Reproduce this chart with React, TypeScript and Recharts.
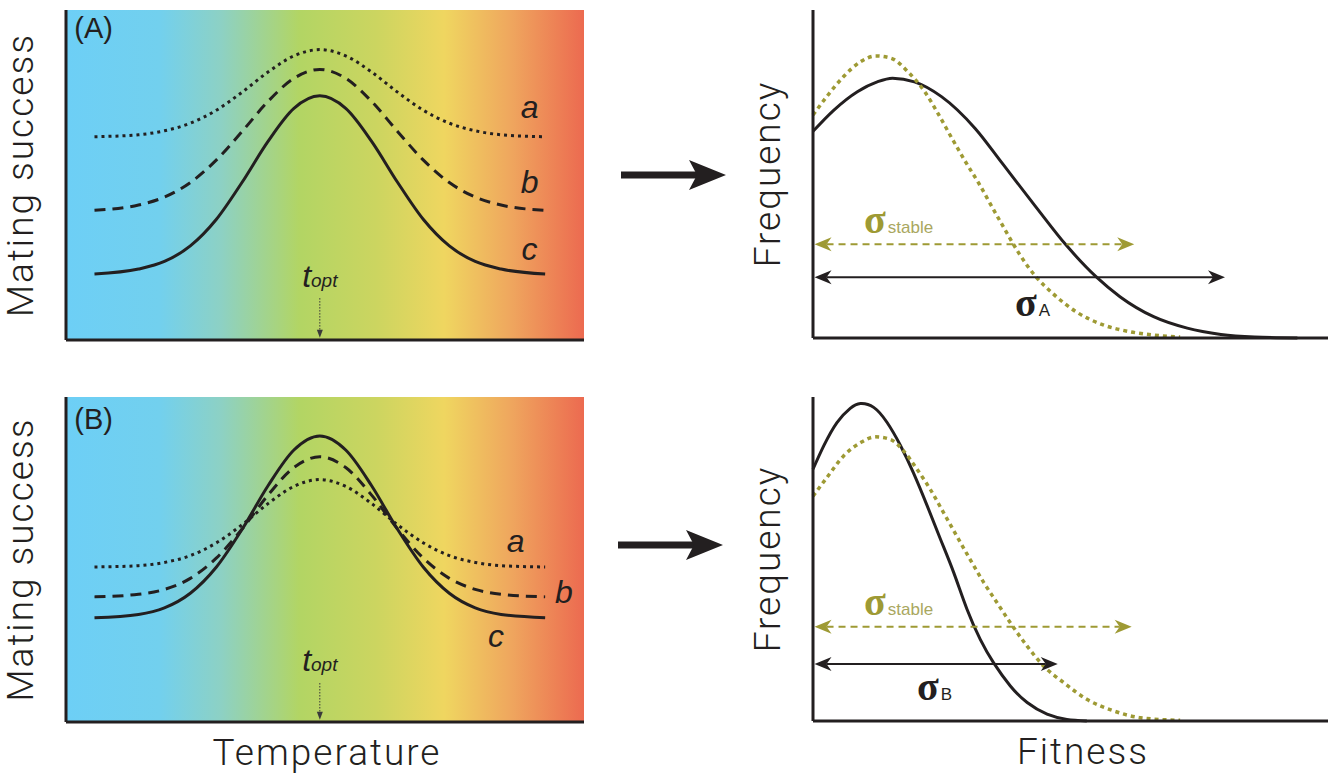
import React from "react";
import {
  LineChart, Line, XAxis, YAxis, ReferenceArea, ReferenceLine, ReferenceDot, Label,
} from "recharts";

const INK = "#231F20";
const OLIVE = "#9E9A34";
const OLIVE_LIGHT = "#A9A760";
const SANS = "'Liberation Sans', Arial, sans-serif";
const TITLE_FONT = "Roboto, 'Liberation Sans', sans-serif";
const SERIF = "'Liberation Serif', 'DejaVu Serif', serif";

// temperature positions of the mating-success curves (0..100 across the panel)
const temps = [5.5, 14, 19, 24, 29, 34, 39, 44, 49, 54, 59, 64, 69, 74, 79, 84, 92.5];

// panel (A): mating success, males a / b / c
const matingAa = [61.6, 62.2, 63.4, 65.7, 69.6, 75.1, 81.2, 86.1, 88, 86.1, 81.2, 75.1, 69.6, 65.7, 63.4, 62.2, 61.6];
const matingAb = [39.3, 40.9, 43.3, 47.7, 54.5, 63.2, 72.3, 79.3, 82, 79.3, 72.3, 63.2, 54.5, 47.7, 43.3, 40.9, 39.3];
const matingAc = [20, 21.5, 23.8, 28.5, 36.5, 47.8, 60.2, 70.2, 74, 70.2, 60.2, 47.8, 36.5, 28.5, 23.8, 21.5, 20];

// panel (B)
const matingBa = [47.7, 48.1, 49.1, 51.2, 55.1, 60.7, 67.2, 72.5, 74.6, 72.5, 67.2, 60.7, 55.1, 51.2, 49.1, 48.1, 47.7];
const matingBb = [38.5, 39.3, 40.8, 44.2, 50.4, 59.4, 69.8, 78.3, 81.6, 78.3, 69.8, 59.4, 50.4, 44.2, 40.8, 39.3, 38.5];
const matingBc = [32.1, 33.1, 35.1, 39.6, 47.6, 59.3, 72.7, 83.7, 88, 83.7, 72.7, 59.3, 47.6, 39.6, 35.1, 33.1, 32.1];

// fitness distributions, top row
const fitAx = [0, 4.1, 8.7, 12.6, 15.6, 19.9, 25.2, 31.8, 37.1, 43.7, 49.6, 55.5, 60.2, 66.8, 73.4, 80, 86.6, 95];
const fitAy = [63, 69.5, 75.1, 78.1, 79.2, 78.1, 73.6, 63.9, 53.3, 40, 28.4, 18.7, 12.6, 6.5, 3, 1.1, 0.3, 0];
const stableAx = [0, 2.7, 6, 9.3, 12.3, 15.3, 18.6, 21.9, 24.5, 27.2, 29.8, 32.5, 35.1, 37.7, 40.4, 43.7, 47, 51.6, 56.9, 62.2, 66.8, 72];
const stableAy = [68, 73.6, 79.7, 84.2, 86, 85.3, 81.2, 75.1, 68.5, 61, 54, 47.2, 40, 32.9, 25.8, 18.7, 13.6, 8, 4, 1.9, 0.9, 0.3];

// fitness distributions, bottom row
const fitBx = [0, 2.1, 4.7, 7.3, 9.3, 11.9, 14.5, 17.1, 19.7, 22.4, 25, 27.6, 30.2, 32.8, 35.4, 38.7, 42, 45.9, 49.8, 53.7];
const fitBy = [77.7, 84.9, 92.1, 96.5, 98, 96.8, 92.2, 85.2, 76.6, 66.4, 56.1, 45.8, 34.5, 25.2, 18, 10.8, 5.7, 2.1, 0.5, 0];
const stableBx = [0, 2.7, 6, 9.3, 12.2, 15.2, 17.8, 20.4, 23, 25.6, 28.2, 30.8, 33.5, 36.1, 38.7, 42, 45.2, 49.2, 53.7, 59, 64.2, 72];
const stableBy = [69.4, 75.1, 81.8, 85.9, 87.7, 86.9, 83.3, 77.7, 71.5, 64.3, 57.1, 49.9, 42.7, 36.5, 30.3, 23.1, 17, 11.8, 6.7, 3.1, 1, 0.2];

// width arrows: [y, right end]
const sigmaStableA = [28.6, 63];
const sigmaA = [18.5, 80.8];
const sigmaStableB = [29.1, 62.5];
const sigmaB = [17.6, 48];

const gradStops: [number, string][] = [
  [0, "#6DCFF6"], [0.18, "#72D0EE"], [0.3, "#8DD1C4"], [0.45, "#B2D564"],
  [0.6, "#CCD560"], [0.73, "#EFD660"], [0.86, "#EFA65E"], [1, "#EC6A50"],
];

const toPts = (xs: number[], ys: number[]) => xs.map((x, i) => ({ x, y: ys[i] }));

function note(key: string, x: number, y: number, render: (cx: number, cy: number) => React.ReactNode) {
  return (
    <ReferenceDot key={key} x={x} y={y} r={0} fill="none" stroke="none"
      label={(p: any) => render(p.viewBox.x, p.viewBox.y) as any} />
  );
}

function spanArrow(color: string, width: number, dash?: string) {
  return (p: any) => {
    const { x1, y1, x2 } = p;
    const L = 17, H = 7, N = 12;
    const left = `M${x1},${y1} L${x1 + L},${y1 - H} L${x1 + N},${y1} L${x1 + L},${y1 + H} Z`;
    const right = `M${x2},${y1} L${x2 - L},${y1 - H} L${x2 - N},${y1} L${x2 - L},${y1 + H} Z`;
    return (
      <g>
        <line x1={x1 + N} y1={y1} x2={x2 - N} y2={y1} stroke={color} strokeWidth={width} strokeDasharray={dash} />
        <path d={left} fill={color} />
        <path d={right} fill={color} />
      </g>
    );
  };
}

const toptArrow = (p: any) => {
  const { x1, y1, y2 } = p;
  return (
    <g>
      <line x1={x1} y1={y1} x2={x1} y2={y2 - 5} stroke="#3a3a3a" strokeWidth={1} strokeDasharray="1.5 1.5" />
      <path d={`M${x1 - 3},${y2 - 8} L${x1 + 3},${y2 - 8} L${x1},${y2} Z`} fill="#3a3a3a" />
    </g>
  );
};

const vertTitle = (vb: any, text: string) => {
  const bx = vb.x + vb.width - 33;
  const cy = vb.y + vb.height / 2;
  return (
    <text x={bx} y={cy} transform={`rotate(-90 ${bx} ${cy})`} textAnchor="middle"
      fontFamily={TITLE_FONT} fontWeight={300} fontSize={37} letterSpacing={2} fill={INK}>{text}</text>
  );
};

const horizTitle = (vb: any, text: string, cx: number) => (
  <text x={cx} y={vb.y + 43} textAnchor="middle" fontFamily={TITLE_FONT} fontWeight={300}
    fontSize={37} letterSpacing={2} fill={INK}>{text}</text>
);

type MatingProps = {
  id: string; tag: string; a: number[]; b: number[]; c: number[];
  height: number; bottom: number; tagY: number;
  labelPos: { a: [number, number]; b: [number, number]; c: [number, number] };
  toptY: number; arrowTop: number; xTitle?: boolean;
};

function MatingPanel(p: MatingProps) {
  const rows = temps.map((t, i) => ({ t, a: p.a[i], b: p.b[i], c: p.c[i] }));
  const letter = (k: "a" | "b" | "c") =>
    note(k, p.labelPos[k][0], p.labelPos[k][1], (cx, cy) => (
      <text x={cx} y={cy} textAnchor="middle" fontFamily={SANS} fontStyle="italic" fontSize={32} fill={INK}>{k}</text>
    ));
  return (
    <LineChart width={600} height={p.height} data={rows} margin={{ top: 10, right: 16, bottom: p.bottom, left: 65 }}>
      <defs>
        <linearGradient id={p.id} x1="0" y1="0" x2="1" y2="0">
          {gradStops.map(([o, c]) => <stop key={o} offset={o} stopColor={c} />)}
        </linearGradient>
      </defs>
      <ReferenceArea x1={0} x2={100} y1={0} y2={100} fill={`url(#${p.id})`} fillOpacity={1} stroke="none" />
      <XAxis dataKey="t" type="number" domain={[0, 100]} height={1} tick={false} tickLine={false}
        axisLine={{ stroke: INK, strokeWidth: 3 }}>
        {p.xTitle && <Label content={(lp: any) => horizTitle(lp.viewBox, "Temperature", lp.viewBox.x + lp.viewBox.width / 2 + 2)} />}
      </XAxis>
      <YAxis type="number" domain={[0, 100]} width={1} tick={false} tickLine={false}
        axisLine={{ stroke: INK, strokeWidth: 3 }}>
        <Label content={(lp: any) => vertTitle(lp.viewBox, "Mating success")} />
      </YAxis>
      <Line dataKey="a" type="monotone" stroke={INK} strokeWidth={3} strokeDasharray="3 4" dot={false} isAnimationActive={false} />
      <Line dataKey="b" type="monotone" stroke={INK} strokeWidth={3} strokeDasharray="11 7" dot={false} isAnimationActive={false} />
      <Line dataKey="c" type="monotone" stroke={INK} strokeWidth={3} dot={false} isAnimationActive={false} />
      {letter("a")}
      {letter("b")}
      {letter("c")}
      {note("tag", 1.6, p.tagY, (cx, cy) => (
        <text x={cx} y={cy} fontFamily={SANS} fontSize={29} fill={INK}>{p.tag}</text>
      ))}
      {note("topt", 49, p.toptY, (cx, cy) => (
        <text x={cx} y={cy} textAnchor="middle" fontFamily={SANS} fontStyle="italic" fill={INK}>
          <tspan fontSize={32}>t</tspan><tspan fontSize={19}>opt</tspan>
        </text>
      ))}
      <ReferenceLine segment={[{ x: 49, y: p.arrowTop }, { x: 49, y: 0.7 }]} shape={toptArrow} />
    </LineChart>
  );
}

type FitProps = {
  height: number; bottom: number; curve: "monotone" | "natural";
  black: { x: number; y: number }[]; stable: { x: number; y: number }[];
  stableArrow: number[]; sigmaArrow: number[];
  stableLabel: [number, number]; sigmaLabel: [number, number]; sub: string; xTitle?: boolean;
};

function FitnessPanel(p: FitProps) {
  return (
    <LineChart width={628} height={p.height} margin={{ top: 10, right: 0, bottom: p.bottom, left: 112 }}>
      <XAxis dataKey="x" type="number" domain={[0, 101]} height={1} tick={false} tickLine={false}
        axisLine={{ stroke: INK, strokeWidth: 3 }}>
        {p.xTitle && <Label content={(lp: any) => horizTitle(lp.viewBox, "Fitness", lp.viewBox.x + 270)} />}
      </XAxis>
      <YAxis type="number" domain={[0, 100]} width={1} tick={false} tickLine={false}
        axisLine={{ stroke: INK, strokeWidth: 3 }}>
        <Label content={(lp: any) => vertTitle(lp.viewBox, "Frequency")} />
      </YAxis>
      <Line data={p.black} dataKey="y" type={p.curve} stroke={INK} strokeWidth={3} dot={false} isAnimationActive={false} />
      <Line data={p.stable} dataKey="y" type="monotone" stroke={OLIVE} strokeWidth={3.5} strokeDasharray="4 4" dot={false} isAnimationActive={false} />
      <ReferenceLine segment={[{ x: 0.3, y: p.stableArrow[0] }, { x: p.stableArrow[1], y: p.stableArrow[0] }]}
        shape={spanArrow(OLIVE, 2, "7 5")} />
      <ReferenceLine segment={[{ x: 0.3, y: p.sigmaArrow[0] }, { x: p.sigmaArrow[1], y: p.sigmaArrow[0] }]}
        shape={spanArrow(INK, 2)} />
      {note("ss", p.stableLabel[0], p.stableLabel[1], (cx, cy) => (
        <text x={cx} y={cy}>
          <tspan fontFamily={SERIF} fontWeight="bold" fontSize={40} fill={OLIVE}>σ</tspan>
          <tspan dx={2} fontFamily={SANS} fontSize={17} fill={OLIVE_LIGHT}>stable</tspan>
        </text>
      ))}
      {note("sx", p.sigmaLabel[0], p.sigmaLabel[1], (cx, cy) => (
        <text x={cx} y={cy}>
          <tspan fontFamily={SERIF} fontWeight="bold" fontSize={40} fill={INK}>σ</tspan>
          <tspan dx={2} fontFamily={SANS} fontSize={17} fill={INK}>{p.sub}</tspan>
        </text>
      ))}
    </LineChart>
  );
}

function BigArrow({ x, y }: { x: number; y: number }) {
  return (
    <g fill={INK}>
      <rect x={x} y={y - 3.5} width={77} height={7} />
      <path d={`M${x + 105},${y} L${x + 68},${y - 15} L${x + 76},${y} L${x + 68},${y + 15} Z`} />
    </g>
  );
}

export default function App() {
  return (
    <div style={{ position: "absolute", left: 0, top: 0, width: 1328, height: 778, background: "#fff", overflow: "hidden" }}>
      <div style={{ position: "absolute", left: 0, top: 0 }}>
        <MatingPanel id="gradA" tag="(A)" a={matingAa} b={matingAb} c={matingAc} height={360} bottom={19}
          tagY={91.5} labelPos={{ a: [89.5, 67.3], b: [89.5, 44.5], c: [89.5, 24.2] }} toptY={16.1} arrowTop={12.7} />
      </div>
      <div style={{ position: "absolute", left: 0, top: 387 }}>
        <MatingPanel id="gradB" tag="(B)" a={matingBa} b={matingBb} c={matingBc} height={391} bottom={55}
          tagY={90.2} labelPos={{ a: [86.8, 52.3], b: [96.1, 36.6], c: [83, 23.1] }} toptY={15.7} arrowTop={12} xTitle />
      </div>
      <div style={{ position: "absolute", left: 700, top: 0 }}>
        <FitnessPanel height={360} bottom={21} curve="monotone" black={toPts(fitAx, fitAy)} stable={toPts(stableAx, stableAy)}
          stableArrow={sigmaStableA} sigmaArrow={sigmaA} stableLabel={[10, 32]} sigmaLabel={[39.6, 6.7]} sub="A" />
      </div>
      <div style={{ position: "absolute", left: 700, top: 387 }}>
        <FitnessPanel height={391} bottom={56} curve="natural" black={toPts(fitBx, fitBy)} stable={toPts(stableBx, stableBy)}
          stableArrow={sigmaStableB} sigmaArrow={sigmaB} stableLabel={[10, 32.7]} sigmaLabel={[20.4, 6.5]} sub="B" xTitle />
      </div>
      <svg width={1328} height={778} style={{ position: "absolute", left: 0, top: 0, pointerEvents: "none" }}>
        <BigArrow x={621} y={175} />
        <BigArrow x={618} y={545} />
      </svg>
    </div>
  );
}
